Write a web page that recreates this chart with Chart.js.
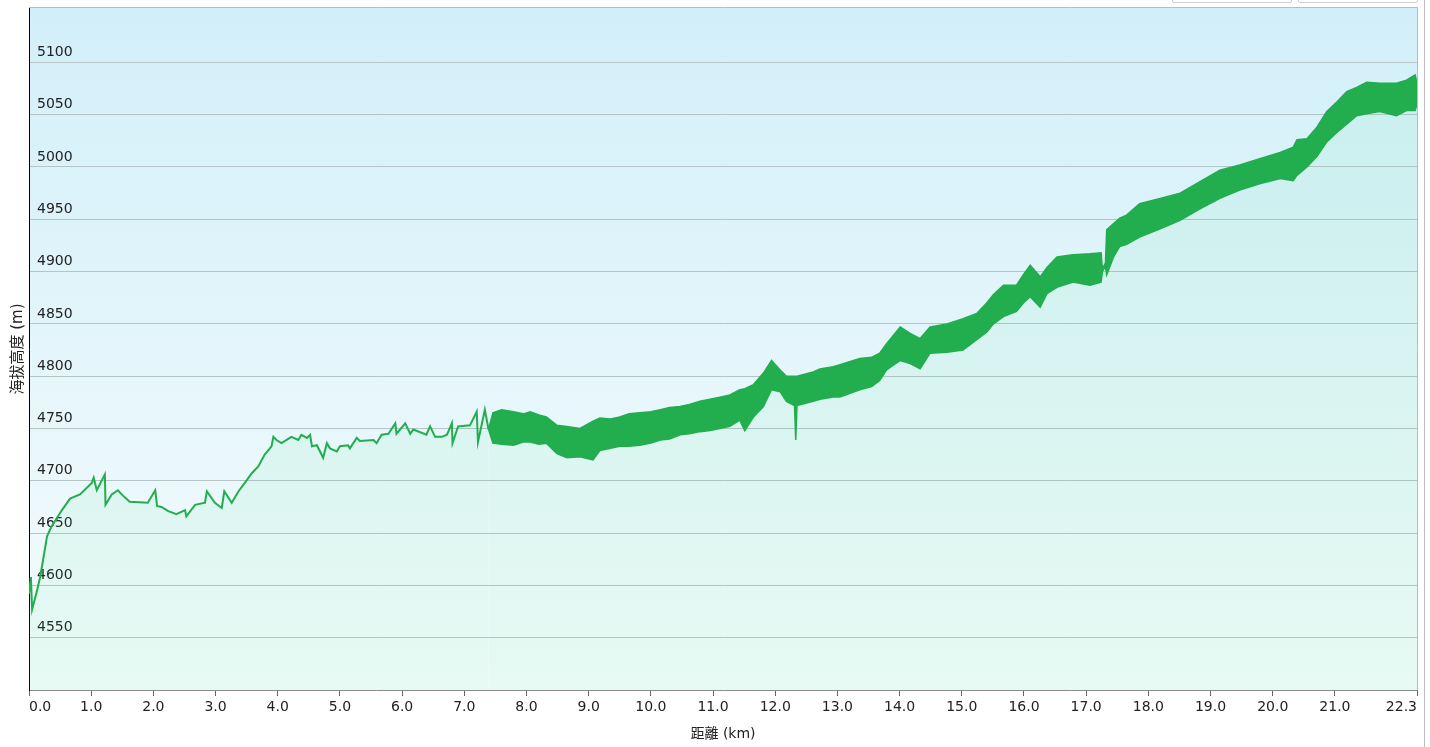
<!DOCTYPE html>
<html>
<head>
<meta charset="utf-8">
<script src="https://cdn.jsdelivr.net/npm/chart.js@4.4.1/dist/chart.umd.min.js"></script>
<style>
  body { margin: 0; background: #fff; overflow: hidden; }
  #wrap { position: relative; width: 1430px; height: 747px; }
  .btn { position: absolute; top: -20px; height: 21px; border: 1px solid #d0d0d0; border-radius: 2px; background: #fff; }
  #edge { position: absolute; left: 1424px; top: 0; width: 1px; height: 747px; background: #bdbdbd; }
</style>
</head>
<body>
<div id="wrap">
  <canvas id="profile" width="1430" height="747"></canvas>
  <div class="btn" style="left:1172px;width:118px"></div>
  <div class="btn" style="left:1298px;width:118px"></div>
  <div id="edge"></div>
</div>
<script>
// smooth part of the track (km, m)
const trackKm = [0.00, 0.03, 0.05, 0.12, 0.18, 0.29, 0.36, 0.53, 0.66, 0.82, 1.01, 1.04, 1.09, 1.22, 1.23,
  1.33, 1.43, 1.49, 1.62, 1.91, 2.03, 2.06, 2.13, 2.24, 2.37, 2.51, 2.53, 2.67, 2.83, 2.86, 2.99, 3.10,
  3.14, 3.26, 3.37, 3.47, 3.58, 3.69, 3.79, 3.90, 3.93, 3.98, 4.06, 4.22, 4.33, 4.38, 4.47, 4.52, 4.55,
  4.63, 4.73, 4.79, 4.84, 4.95, 5.00, 5.13, 5.16, 5.27, 5.32, 5.54, 5.59, 5.67, 5.78, 5.89, 5.91, 6.05,
  6.13, 6.18, 6.39, 6.45, 6.53, 6.64, 6.72, 6.80, 6.81, 6.90, 7.09, 7.20, 7.22, 7.33, 7.39];
const trackElev = [4592, 4608, 4577, 4593, 4608, 4647, 4656, 4672, 4683, 4687, 4698, 4703, 4691, 4706, 4677,
  4687, 4691, 4687, 4680, 4679, 4691, 4676, 4675, 4671, 4668, 4672, 4666, 4677, 4679, 4690, 4679, 4674,
  4690, 4679, 4690, 4698, 4707, 4714, 4725, 4733, 4742, 4739, 4736, 4742, 4739, 4744, 4741, 4744, 4733,
  4734, 4722, 4736, 4731, 4728, 4733, 4734, 4731, 4741, 4738, 4739, 4736, 4744, 4745, 4755, 4745, 4755,
  4745, 4749, 4744, 4752, 4742, 4742, 4744, 4755, 4736, 4752, 4753, 4766, 4737, 4768, 4749];

// noisy part: upper and lower edge of the band (km, m)
const bandKm = [7.39, 7.46, 7.60, 7.79, 7.95, 8.06, 8.20, 8.32, 8.49, 8.65, 8.86, 9.07, 9.18, 9.35, 9.50,
  9.65, 9.82, 10.00, 10.15, 10.30, 10.47, 10.62, 10.79, 10.95, 11.11, 11.27, 11.43, 11.51, 11.65, 11.81,
  11.94, 12.08, 12.18, 12.31, 12.33, 12.35, 12.61, 12.72, 12.93, 13.04, 13.36, 13.55, 13.68, 13.79, 14.01,
  14.17, 14.33, 14.49, 14.76, 15.02, 15.24, 15.40, 15.51, 15.67, 15.88, 15.99, 16.10, 16.26, 16.37, 16.53,
  16.79, 17.06, 17.24, 17.26, 17.31, 17.33, 17.44, 17.54, 17.65, 17.86, 18.19, 18.51, 18.83, 19.15, 19.47,
  19.79, 20.12, 20.33, 20.39, 20.55, 20.71, 20.87, 21.03, 21.19, 21.35, 21.51, 21.72, 21.99, 22.15, 22.29, 22.32];
const bandTop = [4749, 4765, 4768, 4766, 4764, 4766, 4763, 4761, 4753, 4752, 4750, 4757, 4760, 4759, 4761,
  4764, 4765, 4766, 4768, 4770, 4771, 4773, 4776, 4778, 4780, 4782, 4787, 4788, 4792, 4803,
  4815, 4806, 4800, 4800, 4800, 4800, 4804, 4807, 4809, 4811, 4817, 4818, 4822, 4831, 4847,
  4841, 4836, 4847, 4850, 4855, 4860, 4870, 4878, 4887, 4887, 4897, 4906, 4895, 4904, 4914,
  4916, 4917, 4918, 4903, 4908, 4940, 4946, 4951, 4954, 4965, 4970, 4975, 4986, 4997, 5002,
  5008, 5014, 5019, 5026, 5027, 5038, 5053, 5062, 5072, 5076, 5081, 5080, 5080, 5083, 5088, 5080];
const bandBottom = [4749, 4736, 4735, 4734, 4737, 4737, 4735, 4736, 4726, 4722, 4723, 4720, 4729, 4731, 4733,
  4733, 4734, 4736, 4739, 4740, 4744, 4745, 4747, 4748, 4750, 4752, 4758, 4748, 4761, 4771,
  4787, 4785, 4776, 4772, 4739, 4772, 4776, 4778, 4780, 4780, 4787, 4790, 4796, 4806, 4815,
  4812, 4807, 4822, 4823, 4825, 4835, 4842, 4850, 4857, 4862, 4870, 4876, 4866, 4879, 4885,
  4890, 4887, 4890, 4900, 4905, 4897, 4914, 4924, 4926, 4933, 4941, 4949, 4960, 4970, 4978,
  4984, 4989, 4987, 4992, 5000, 5010, 5024, 5033, 5041, 5049, 5051, 5053, 5049, 5054, 5054, 5060];

const xTicks = [0, 1, 2, 3, 4, 5, 6, 7, 8, 9, 10, 11, 12, 13, 14, 15, 16, 17, 18, 19, 20, 21, 22.32];
const yTicks = [4550, 4600, 4650, 4700, 4750, 4800, 4850, 4900, 4950, 5000, 5050, 5100];

const GREEN = 'rgb(34,173,78)';
const AREA = 'rgba(40,220,110,0.07)';
const FONT = "'DejaVu Sans', 'Noto Sans CJK TC', sans-serif";

function pts(xs, ys) {
  return xs.map((x, i) => ({ x: x, y: ys[i] }));
}

const plotBackground = {
  id: 'plotBackground',
  beforeDraw(chart) {
    const { ctx, chartArea: a } = chart;
    ctx.save();
    ctx.fillStyle = '#fff';
    ctx.fillRect(0, 0, chart.width, chart.height);
    const g = ctx.createLinearGradient(0, a.top, 0, a.bottom);
    g.addColorStop(0, '#d2eff9');
    g.addColorStop(1, '#f6fcfd');
    ctx.fillStyle = g;
    ctx.fillRect(a.left, a.top, a.right - a.left, a.bottom - a.top);
    ctx.restore();
  },
  afterDraw(chart) {
    const { ctx, chartArea: a } = chart;
    ctx.save();
    ctx.strokeStyle = '#b4bec2';
    ctx.lineWidth = 1;
    ctx.beginPath();
    ctx.moveTo(a.left, a.top - 0.5);
    ctx.lineTo(a.right + 0.5, a.top - 0.5);
    ctx.lineTo(a.right + 0.5, a.bottom);
    ctx.stroke();
    ctx.restore();
  }
};

new Chart(document.getElementById('profile'), {
  type: 'line',
  data: {
    datasets: [
      { data: pts(trackKm, trackElev), borderColor: GREEN, borderWidth: 2, fill: 'start', backgroundColor: AREA },
      { data: pts(bandKm, bandTop), borderColor: GREEN, borderWidth: 1.5, fill: '+1', backgroundColor: GREEN },
      { data: pts(bandKm, bandBottom), borderColor: GREEN, borderWidth: 1.5, fill: 'start', backgroundColor: AREA }
    ]
  },
  options: {
    responsive: false,
    animation: false,
    devicePixelRatio: 1,
    layout: { padding: { top: 8, right: 13, left: 0, bottom: 0 } },
    elements: { point: { radius: 0 }, line: { tension: 0 } },
    plugins: { legend: { display: false }, tooltip: { enabled: false } },
    scales: {
      x: {
        type: 'linear',
        min: 0,
        max: 22.32,
        afterBuildTicks: s => { s.ticks = xTicks.map(v => ({ value: v })); },
        afterFit: s => { s.height = 57; },
        ticks: {
          autoSkip: false,
          maxRotation: 0,
          align: 'inner',
          padding: 3,
          color: '#222',
          font: { family: FONT, size: 14 },
          callback: v => v === 22.32 ? '22.3' : v.toFixed(1)
        },
        grid: { drawOnChartArea: false, tickLength: 6, tickColor: '#666' },
        border: { color: '#8a8a8a' },
        title: { display: true, text: '距離 (km)', color: '#222', font: { family: FONT, size: 14 }, padding: { top: 4, bottom: 4 } }
      },
      y: {
        min: 4500,
        max: 5152,
        afterBuildTicks: s => { s.ticks = yTicks.map(v => ({ value: v })); },
        afterFit: s => { s.width = 29; s.paddingTop = 0; s.paddingBottom = 0; },
        ticks: {
          mirror: true,
          padding: 8,
          labelOffset: -10,
          color: '#222',
          font: { family: FONT, size: 14 },
          callback: v => String(v)
        },
        grid: { color: '#b6c3c7', drawTicks: false },
        border: { color: '#000' },
        title: { display: true, text: '海拔高度 (m)', color: '#222', font: { family: FONT, size: 15 }, padding: { top: 9, bottom: 4 } }
      }
    }
  },
  plugins: [plotBackground]
});
</script>
</body>
</html>
